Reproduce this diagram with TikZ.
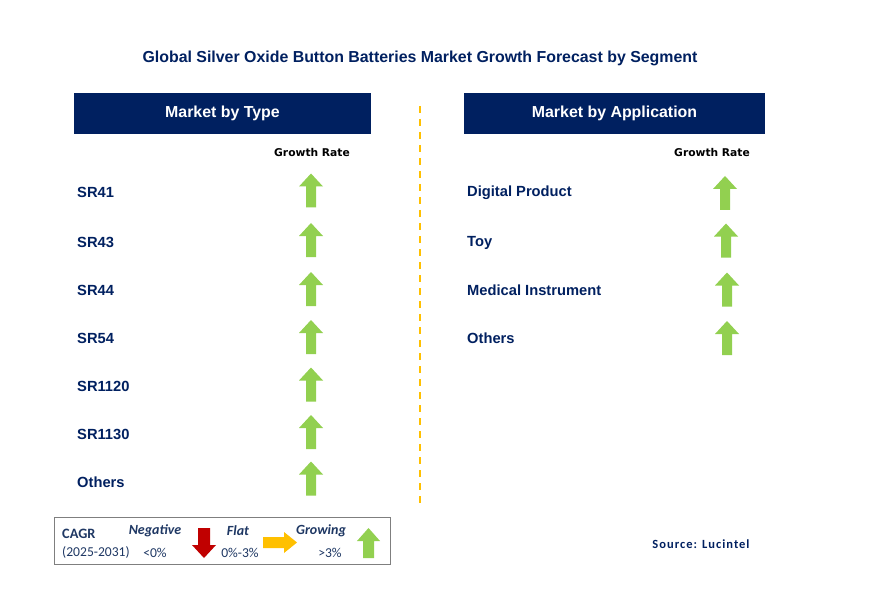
\documentclass[tikz,border=0pt]{standalone}
\usepackage{fontspec}
\setmainfont{Liberation Sans}
\newfontfamily\calib{Carlito}
\newfontfamily\calibsp[LetterSpace=8]{Carlito}
\newfontfamily\grfont{DejaVu Sans}
\definecolor{navy}{HTML}{002060}
\definecolor{legtxt}{HTML}{1F3864}
\definecolor{upgreen}{HTML}{92D050}
\definecolor{downred}{HTML}{C00000}
\definecolor{flatorange}{HTML}{FFC000}
\definecolor{dashorange}{HTML}{FFC000}
\definecolor{boxgray}{HTML}{7F7F7F}
\tikzset{
  header/.style={fill=navy,text=white,font=\bfseries\fontsize{15.9}{18}\selectfont,minimum width=297pt,minimum height=41pt,inner sep=0pt},
  rowlabel/.style={anchor=west,text=navy,font=\bfseries\fontsize{14.7}{16}\selectfont,inner sep=0pt},
  growth/.style={text=black,font=\grfont\bfseries\fontsize{10.7}{12}\selectfont,inner sep=0pt},
  legtext/.style={text=legtxt,font=\calib\fontsize{13.6}{15}\selectfont,inner sep=0pt},
  legbold/.style={text=legtxt,font=\calib\bfseries\fontsize{14.3}{15}\selectfont,inner sep=0pt},
  legital/.style={text=legtxt,font=\calib\bfseries\itshape\fontsize{14}{15}\selectfont,inner sep=0pt},
}
\newcommand{\uparr}[2]{\fill[upgreen] (#1,#2) ++(0,-17) -- ++(12,13) -- ++(-7,0) -- ++(0,21) -- ++(-10,0) -- ++(0,-21) -- ++(-7,0) -- cycle;}
\begin{document}
\begin{tikzpicture}[x=1pt,y=-1pt]
\useasboundingbox (0,0) rectangle (893,612);
\fill[white] (0,0) rectangle (893,612);
% title
\node[text=navy,font=\bfseries\fontsize{15.9}{18}\selectfont,inner sep=0pt] (title) at (420,58.5) {Global Silver Oxide Button Batteries Market Growth Forecast by Segment};
% headers
\node[header] (htype) at (222.5,113.5) {Market by Type};
\node[header,minimum width=301pt] (happ) at (614.5,113.5) {Market by Application};
% divider
\coordinate (dtop) at (420,106);
\coordinate (dbot) at (420,506);
\draw[dashorange,line width=1.8pt,dash pattern=on 7pt off 6pt] (dtop) -- (dbot);
% growth rate labels
\node[growth] (grl) at (312,153) {Growth Rate};
\node[growth] (grr) at (712,153) {Growth Rate};
% left rows
\node[rowlabel] (l1) at (77,192.5) {SR41};
\node[rowlabel] (l2) at (77,242.5) {SR43};
\node[rowlabel] (l3) at (77,290.5) {SR44};
\node[rowlabel] (l4) at (77,338.5) {SR54};
\node[rowlabel] (l5) at (77,386.5) {SR1120};
\node[rowlabel] (l6) at (77,434.5) {SR1130};
\node[rowlabel] (l7) at (77,482.5) {Others};
\uparr{311}{190.5}
\uparr{311}{240}
\uparr{311}{289}
\uparr{311}{337}
\uparr{311}{384.5}
\uparr{311}{432}
\uparr{311}{478.5}
% right rows
\node[rowlabel] (r1) at (467,192.5) {Digital Product};
\node[rowlabel] (r2) at (467,242.5) {Toy};
\node[rowlabel] (r3) at (467,290.5) {Medical Instrument};
\node[rowlabel] (r4) at (467,338.5) {Others};
\uparr{725}{193}
\uparr{726}{240.5}
\uparr{727}{289.5}
\uparr{727}{338}
% legend
\node[draw=boxgray,line width=1pt,minimum width=336pt,minimum height=47pt,inner sep=0pt] (legbox) at (222,540.5) {};
\node[legbold,anchor=west] (cagr) at (62,534) {CAGR};
\node[legtext,anchor=west] (yrs) at (62,552) {(2025-2031)};
\node[legital] (neg) at (155,531) {Negative};
\node[legtext] (negv) at (155,553) {<0\%};
\node[legital] (flat) at (238,531) {Flat};
\node[legtext] (flatv) at (240,553) {0\%-3\%};
\node[legital] (grow) at (321,531) {Growing};
\node[legtext] (growv) at (330,553) {>3\%};
\fill[downred] (204,558) -- (216,545) -- (210,545) -- (210,528) -- (198,528) -- (198,545) -- (192,545) -- cycle;
\fill[flatorange] (297,542.5) -- (284,532) -- (284,537) -- (263,537) -- (263,548) -- (284,548) -- (284,553) -- cycle;
\fill[upgreen] (368.5,528) -- (380,541) -- (374,541) -- (374,558) -- (363,558) -- (363,541) -- (357,541) -- cycle;
% source
\node[text=navy,font=\calibsp\bfseries\fontsize{12.5}{14}\selectfont,inner sep=0pt] (src) at (701,544) {Source: Lucintel};
\end{tikzpicture}
\end{document}
